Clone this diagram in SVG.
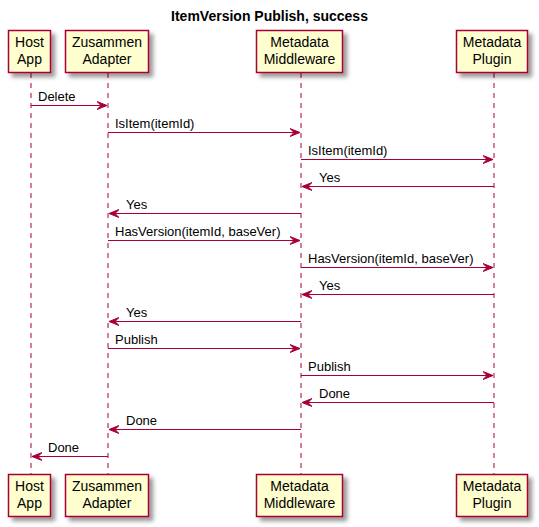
<svg xmlns="http://www.w3.org/2000/svg" width="539" height="527" viewBox="0 0 539 527">
<defs>
<filter id="sh" x="-20%" y="-20%" width="150%" height="150%">
<feGaussianBlur in="SourceAlpha" stdDeviation="2"/>
<feOffset dx="4" dy="4" result="b"/>
<feComponentTransfer><feFuncA type="linear" slope="0.4"/></feComponentTransfer>
<feMerge><feMergeNode/><feMergeNode in="SourceGraphic"/></feMerge>
</filter>
<marker id="ah" markerWidth="11" markerHeight="9" refX="10" refY="4.5" orient="auto" markerUnits="userSpaceOnUse">
<polygon points="0,0.5 10,4.5 0,8.5 4,4.5" fill="#A80036" stroke="#A80036" stroke-width="1"/>
</marker>
</defs>
<style>
.box{fill:#FEFECE;stroke:#A80036;stroke-width:1.5;filter:url(#sh)}
.bt{font-family:"Liberation Sans",Arial,sans-serif;font-size:14px;fill:#000;text-anchor:middle}
.life{stroke:#A80036;stroke-width:1;stroke-dasharray:5,5;fill:none}
.msg{stroke:#A80036;stroke-width:1;fill:none;marker-end:url(#ah)}
.mt{font-family:"Liberation Sans",Arial,sans-serif;font-size:13px;fill:#000}
.title{font-family:"Liberation Sans",Arial,sans-serif;font-size:14px;font-weight:bold;fill:#000;text-anchor:middle}
</style>
<rect width="539" height="527" fill="#FFFFFF"/>
<text class="title" x="269.5" y="21">ItemVersion Publish, success</text>
<g id="lifelines">
<line class="life" x1="31" y1="73" x2="31" y2="474"/>
<line class="life" x1="108" y1="73" x2="108" y2="474"/>
<line class="life" x1="301" y1="73" x2="301" y2="474"/>
<line class="life" x1="494" y1="73" x2="494" y2="474"/>
</g>
<g id="host">
<rect class="box" x="8.5" y="30.5" width="42" height="42"/>
<text class="bt" x="29.5" y="47">Host</text><text class="bt" x="29.5" y="64">App</text>
<rect class="box" x="8.5" y="474.5" width="42" height="42"/>
<text class="bt" x="29.5" y="491">Host</text><text class="bt" x="29.5" y="508">App</text>
</g>
<g id="adapter">
<rect class="box" x="65.5" y="30.5" width="83" height="42"/>
<text class="bt" x="107" y="47">Zusammen</text><text class="bt" x="107" y="64">Adapter</text>
<rect class="box" x="65.5" y="474.5" width="83" height="42"/>
<text class="bt" x="107" y="491">Zusammen</text><text class="bt" x="107" y="508">Adapter</text>
</g>
<g id="middleware">
<rect class="box" x="256.5" y="30.5" width="86" height="42"/>
<text class="bt" x="299.5" y="47">Metadata</text><text class="bt" x="299.5" y="64">Middleware</text>
<rect class="box" x="256.5" y="474.5" width="86" height="42"/>
<text class="bt" x="299.5" y="491">Metadata</text><text class="bt" x="299.5" y="508">Middleware</text>
</g>
<g id="plugin">
<rect class="box" x="456.5" y="30.5" width="71" height="42"/>
<text class="bt" x="492" y="47">Metadata</text><text class="bt" x="492" y="64">Plugin</text>
<rect class="box" x="456.5" y="474.5" width="71" height="42"/>
<text class="bt" x="492" y="491">Metadata</text><text class="bt" x="492" y="508">Plugin</text>
</g>
<g id="connectors">
<line class="msg" x1="31" y1="105.5" x2="107" y2="105.5"/>
<text class="mt" x="38" y="101">Delete</text>
<line class="msg" x1="108" y1="132.5" x2="300" y2="132.5"/>
<text class="mt" x="115" y="128">IsItem(itemId)</text>
<line class="msg" x1="301" y1="159.5" x2="493" y2="159.5"/>
<text class="mt" x="308" y="155">IsItem(itemId)</text>
<line class="msg" x1="494" y1="186.5" x2="302" y2="186.5"/>
<text class="mt" x="319" y="182">Yes</text>
<line class="msg" x1="301" y1="213.5" x2="109" y2="213.5"/>
<text class="mt" x="126" y="209">Yes</text>
<line class="msg" x1="108" y1="240.5" x2="300" y2="240.5"/>
<text class="mt" x="115" y="236">HasVersion(itemId, baseVer)</text>
<line class="msg" x1="301" y1="267.5" x2="493" y2="267.5"/>
<text class="mt" x="308" y="263">HasVersion(itemId, baseVer)</text>
<line class="msg" x1="494" y1="294.5" x2="302" y2="294.5"/>
<text class="mt" x="319" y="290">Yes</text>
<line class="msg" x1="301" y1="321.5" x2="109" y2="321.5"/>
<text class="mt" x="126" y="317">Yes</text>
<line class="msg" x1="108" y1="348.5" x2="300" y2="348.5"/>
<text class="mt" x="115" y="344">Publish</text>
<line class="msg" x1="301" y1="375.5" x2="493" y2="375.5"/>
<text class="mt" x="308" y="371">Publish</text>
<line class="msg" x1="494" y1="402.5" x2="302" y2="402.5"/>
<text class="mt" x="319" y="398">Done</text>
<line class="msg" x1="301" y1="429.5" x2="109" y2="429.5"/>
<text class="mt" x="126" y="425">Done</text>
<line class="msg" x1="108" y1="456.5" x2="32" y2="456.5"/>
<text class="mt" x="48" y="452">Done</text>
</g>
</svg>
